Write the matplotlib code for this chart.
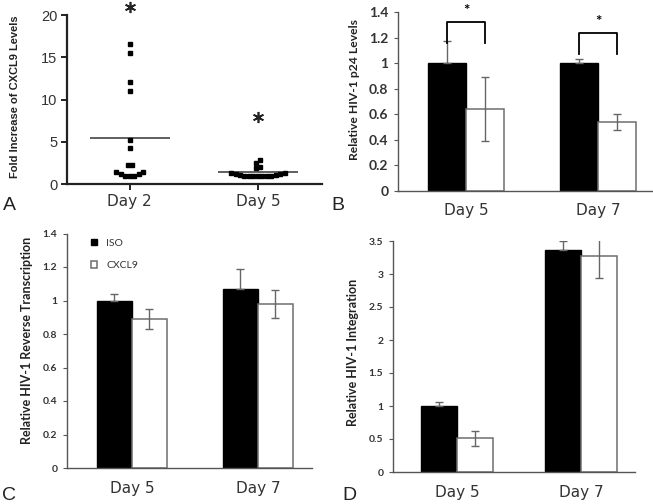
import matplotlib.pyplot as plt
import numpy as np

# panel A: fold increase of CXCL9 levels (dot plot)
a_days = ['Day 2', 'Day 5']
a_day2 = [16.6, 15.5, 12.1, 11.0, 5.2, 4.3, 2.3, 2.3, 1.4, 1.2, 1.0, 0.95, 1.0, 1.15, 1.4]
a_day5 = [2.8, 2.5, 2.0, 1.9, 1.3, 1.2, 1.1, 1.0, 1.0, 1.0, 1.0, 1.0, 1.0, 1.0, 1.1, 1.2, 1.3]
a_means = [5.4, 1.4]
a_stars = [20.9, 7.9]

# panels B-D: ISO vs CXCL9
days = ['Day 5', 'Day 7']
groups = ['ISO', 'CXCL9']

b_iso = [1.0, 1.0]
b_iso_err = [0.17, 0.03]
b_cxcl9 = [0.64, 0.54]
b_cxcl9_err = [0.25, 0.065]
b_bracket_top = [1.32, 1.235]

c_iso = [1.0, 1.07]
c_iso_err = [0.04, 0.12]
c_cxcl9 = [0.89, 0.98]
c_cxcl9_err = [0.06, 0.085]

d_iso = [1.0, 3.36]
d_iso_err = [0.06, 0.14]
d_cxcl9 = [0.51, 3.27]
d_cxcl9_err = [0.11, 0.33]

W, H = 653, 504
AXIS_GREY = '#555555'
TEXT_GREY = '#333333'
TICK_FONT = 'Lato'
DAY_FONT = 'DejaVu Sans'


def px_axes(fig, left, right, top, bottom):
    # place an axes from pixel edges of the figure
    return fig.add_axes([left / W, (H - bottom) / H, (right - left) / W, (bottom - top) / H])


def swarm_offsets(vals, tol=0.6, step=0.035):
    # spread close values sideways, lowest in the middle
    vals = np.asarray(vals)
    order = np.argsort(vals, kind='stable')
    clusters = []
    for i in order:
        if clusters and vals[i] - vals[clusters[-1][0]] < tol:
            clusters[-1].append(i)
        else:
            clusters.append([i])
    offs = np.zeros(len(vals))
    for g in clusters:
        n = len(g)
        slots = sorted(range(n), key=lambda k: (abs(k - (n - 1) / 2), k))
        for idx, s in zip(g, slots):
            offs[idx] = (s - (n - 1) / 2) * step
    return offs


def style_bar_axes(ax, ymax, ystep, tick_size):
    for s in ['top', 'right']:
        ax.spines[s].set_visible(False)
    for s in ['left', 'bottom']:
        ax.spines[s].set_color(AXIS_GREY)
        ax.spines[s].set_linewidth(1.0)
    ax.set_ylim(0, ymax)
    ticks = np.round(np.arange(0, ymax + 1e-9, ystep), 2)
    ax.set_yticks(ticks)
    ax.set_yticklabels(['{:g}'.format(t) for t in ticks], fontfamily=TICK_FONT,
                       fontsize=tick_size, fontweight='bold', color=TEXT_GREY)
    ax.tick_params(axis='y', length=3, width=0.8, color=AXIS_GREY, pad=4)
    ax.tick_params(axis='x', length=0, pad=9)
    ax.set_xticks(range(len(days)))
    ax.set_xticklabels(days, fontfamily=DAY_FONT, fontsize=11, color=TEXT_GREY)


def draw_bars(ax, iso, iso_err, cx, cx_err, width):
    x = np.arange(len(days))
    ax.bar(x - width / 2, iso, width, color='black', edgecolor='black', linewidth=1,
           label=groups[0], zorder=2)
    ax.bar(x + width / 2, cx, width, color='white', edgecolor='#6e6e6e', linewidth=1.1,
           label=groups[1], zorder=2)
    ax.errorbar(x - width / 2, iso, yerr=[np.zeros(len(iso)), iso_err], fmt='none',
                ecolor='#666666', elinewidth=1, capsize=3, capthick=1, zorder=3)
    ax.errorbar(x + width / 2, cx, yerr=cx_err, fmt='none',
                ecolor='#666666', elinewidth=1, capsize=3, capthick=1, zorder=3)
    return x


fig = plt.figure(figsize=(W / 100, H / 100), dpi=100)

# ---- A
axA = px_axes(fig, 67, 322, 15, 184)
xa = np.arange(len(a_days))
for i, vals in enumerate([a_day2, a_day5]):
    axA.plot(xa[i] + swarm_offsets(vals), vals, 's', color='black', markersize=3.2,
             linestyle='none', clip_on=False, zorder=3)
    axA.hlines(a_means[i], xa[i] - 0.31, xa[i] + 0.31, color='#444444', linewidth=1.2, zorder=2)
axA.plot(xa, a_stars, linestyle='none', marker=(6, 2, 0), markersize=8, markeredgewidth=1.2,
         color='#222222', clip_on=False)
axA.set_xlim(-0.49, 1.5)
axA.set_ylim(0, 20)
axA.set_yticks([0, 5, 10, 15, 20])
axA.set_yticklabels(['0', '5', '10', '15', '20'], fontfamily='Liberation Sans', fontsize=10.5,
                    color=TEXT_GREY)
axA.set_xticks(xa)
axA.set_xticklabels(a_days, fontfamily=DAY_FONT, fontsize=11, color=TEXT_GREY)
for s in ['top', 'right']:
    axA.spines[s].set_visible(False)
for s in ['left', 'bottom']:
    axA.spines[s].set_linewidth(1.6)
    axA.spines[s].set_color('#222222')
axA.tick_params(length=4, width=1.4, color='#222222', pad=3)
fig.text(15 / W, 1 - 97 / H, 'Fold Increase of CXCL9 Levels', rotation=90, ha='center', va='center',
         fontfamily='Liberation Sans', fontsize=8, fontweight='bold', color='#222222')

# ---- B
axB = px_axes(fig, 398, 653, 12, 191)
wB = 0.29
xb = draw_bars(axB, b_iso, b_iso_err, b_cxcl9, b_cxcl9_err, wB)
style_bar_axes(axB, 1.4, 0.2, 10)
axB.set_xlim(-0.515, 1.417)
for i in range(len(days)):
    x0, x1 = xb[i] - wB / 2, xb[i] + wB / 2
    top = b_bracket_top[i]
    axB.plot([x0, x0, x1, x1], [top - 0.16, top, top, top - 0.16], color='black', linewidth=1.3,
             clip_on=False, zorder=4)
    axB.text(xb[i], top + 0.035, '*', ha='center', va='bottom', fontsize=11,
             fontfamily=TICK_FONT, fontweight='bold', clip_on=False)
fig.text(354 / W, 1 - 90 / H, 'Relative HIV-1 p24 Levels', rotation=90, ha='center', va='center',
         fontfamily=TICK_FONT, fontsize=8.7, fontweight='bold', color='#222222')

# ---- C
axC = px_axes(fig, 67, 312, 233.5, 468)
wC = 0.278
draw_bars(axC, c_iso, c_iso_err, c_cxcl9, c_cxcl9_err, wC)
style_bar_axes(axC, 1.4, 0.2, 7.5)
axC.set_xlim(-0.516, 1.43)
axC.legend(loc='upper left', bbox_to_anchor=(0.08, 0.995), frameon=False, handlelength=0.6,
           handleheight=0.6, handletextpad=0.9, labelspacing=1.3, borderaxespad=0,
           prop={'family': TICK_FONT, 'size': 7.5}, labelcolor=TEXT_GREY)
fig.text(27 / W, 1 - 340 / H, 'Relative HIV-1 Reverse Transcription', rotation=90, ha='center',
         va='center', fontfamily=TICK_FONT, fontsize=9, fontweight='bold', color='#222222')

# ---- D
axD = px_axes(fig, 393, 635, 241, 472)
wD = 0.29
draw_bars(axD, d_iso, d_iso_err, d_cxcl9, d_cxcl9_err, wD)
style_bar_axes(axD, 3.5, 0.5, 7.5)
axD.set_xlim(-0.516, 1.435)
fig.text(353 / W, 1 - 352 / H, 'Relative HIV-1 Integration', rotation=90, ha='center', va='center',
         fontfamily=TICK_FONT, fontsize=9, fontweight='bold', color='#222222')

# panel letters
for letter, (lx, ly) in zip('ABCD', [(9, 205), (338, 206), (9, 495), (349, 495)]):
    fig.text(lx / W, 1 - ly / H, letter, ha='center', va='center', fontsize=14,
             fontfamily='Liberation Sans', color='#222222')

plt.savefig('out.png', dpi=100)
